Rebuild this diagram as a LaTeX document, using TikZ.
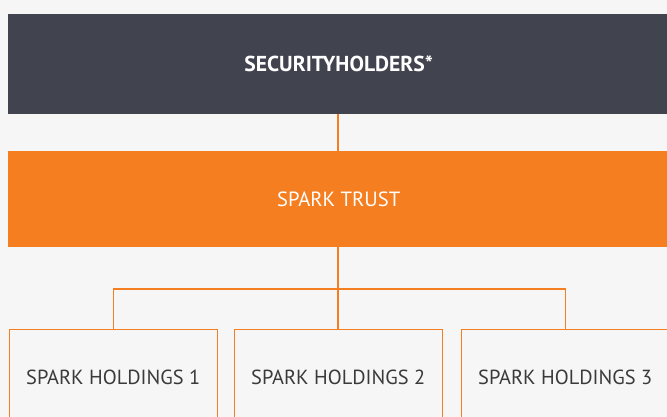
\documentclass[tikz,border=0pt]{standalone}
\usepackage{fontspec}
\setmainfont{PT Sans}
\definecolor{bg}{HTML}{F6F6F6}
\definecolor{darkbox}{HTML}{41444F}
\definecolor{sparkorange}{HTML}{F47E20}
\definecolor{txtgray}{HTML}{3A3A3A}
\begin{document}
\begin{tikzpicture}[x=1pt,y=-1pt,
  bigbox/.style={rectangle,inner sep=0pt,minimum width=661pt,anchor=north west},
  holdbox/.style={rectangle,draw=sparkorange,line width=1.2pt,fill=bg,inner sep=0pt,
     minimum width=208pt,minimum height=97pt,anchor=north west,text=txtgray,font=\fontsize{20.4}{22}\selectfont},
  link/.style={draw=sparkorange,line width=1.2pt}]
\useasboundingbox (0,0) rectangle (667,417);
\fill[bg] (0,0) rectangle (667,417);
\clip (0,0) rectangle (667,417);
\node[bigbox,fill=darkbox,minimum height=100pt,text=white,font=\bfseries\fontsize{21.6}{22}\selectfont] (holders) at (8,13.5) {\raisebox{-1.5pt}{SECURITYHOLDERS*}};
\node[bigbox,fill=sparkorange,minimum height=96pt,text=white,font=\fontsize{20.6}{22}\selectfont] (trust) at (8,151) {\raisebox{-2.5pt}{SPARK TRUST}};
\node[holdbox] (h1) at (8.6,328.6) {SPARK HOLDINGS 1};
\node[holdbox] (h2) at (233.6,328.6) {SPARK HOLDINGS 2};
\node[holdbox] (h3) at (460.6,328.6) {SPARK HOLDINGS 3};
\coordinate (bus) at (338,289);
\draw[link] (holders.south -| bus) -- (trust.north -| bus);
\draw[link] (trust.south -| bus) -- (h2.north -| bus);
\draw[link] (h1.north) |- (bus) -| (h3.north);
\end{tikzpicture}
\end{document}
